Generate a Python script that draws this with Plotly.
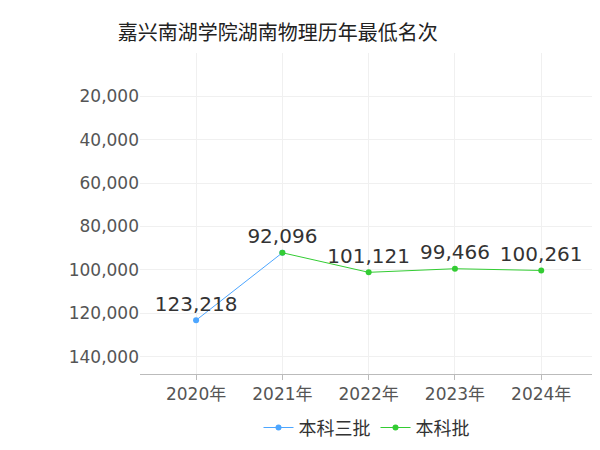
import plotly.graph_objs as go

years = ['2020年', '2021年', '2022年', '2023年', '2024年']
s1_x = ['2020年', '2021年']
s1_y = [123218, 92096]
s2_x = ['2021年', '2022年', '2023年', '2024年']
s2_y = [92096, 101121, 99466, 100261]
ticks = [20000, 40000, 60000, 80000, 100000, 120000, 140000]

fig = go.Figure()
fig.add_trace(go.Scatter(x=s1_x, y=s1_y, name='本科三批', mode='lines+markers+text',
                         line=dict(color='#4da6ff', width=1), marker=dict(size=6),
                         text=[f'{v:,}' for v in s1_y[:1]] + [''], textposition='top center',
                         textfont=dict(size=20, color='#333')))
fig.add_trace(go.Scatter(x=s2_x, y=s2_y, name='本科批', mode='lines+markers+text',
                         line=dict(color='#33cc33', width=1), marker=dict(size=6),
                         text=[f'{v:,}' for v in s2_y], textposition='top center',
                         textfont=dict(size=20, color='#333')))
fig.update_layout(
    width=600, height=450, plot_bgcolor='white', paper_bgcolor='white',
    font=dict(family='DejaVu Sans, Noto Sans CJK SC', color='#555'),
    title=dict(text='嘉兴南湖学院湖南物理历年最低名次', x=0.183, xanchor='left', y=0.96,
               font=dict(size=20, color='#222')),
    margin=dict(l=132, r=15, t=45, b=80),
    legend=dict(orientation='h', x=0.5, xanchor='center', y=-0.11, font=dict(size=18, color='#333')),
    xaxis=dict(categoryorder='array', categoryarray=years, range=[-0.65, 4.6],
               showgrid=True, gridcolor='#f0f0f0', showline=True, linecolor='#bbb',
               tickfont=dict(size=17), ticks='outside', tickcolor='#bbb'),
    yaxis=dict(range=[148000, 0], tickvals=ticks, tickformat=',', showgrid=True,
               gridcolor='#f0f0f0', tickfont=dict(size=17), zeroline=False),
)
fig.write_html('out.html')
